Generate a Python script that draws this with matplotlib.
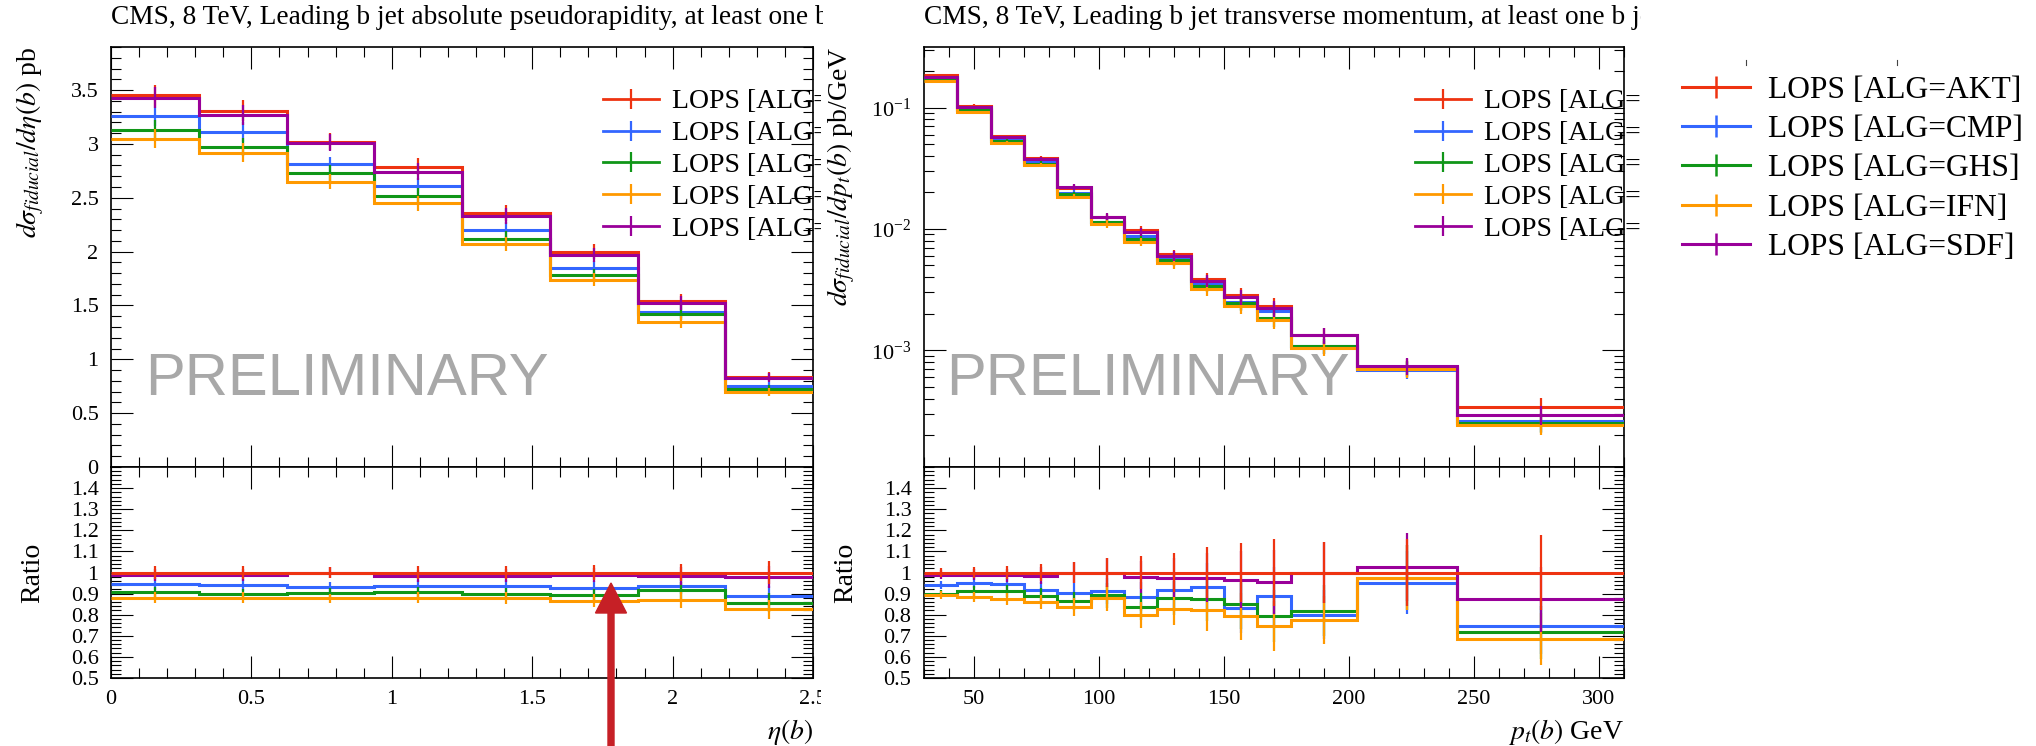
import numpy as np
import matplotlib.pyplot as plt
from matplotlib.lines import Line2D
from matplotlib.patches import FancyArrow
from matplotlib.transforms import Bbox, TransformedBbox
from matplotlib.ticker import MultipleLocator, FixedLocator, FixedFormatter, LogLocator, NullFormatter

plt.rcParams['font.family'] = ['Liberation Serif', 'DejaVu Serif']
plt.rcParams['mathtext.fontset'] = 'stix'

labels = ["LOPS [ALG=AKT]", "LOPS [ALG=CMP]", "LOPS [ALG=GHS]", "LOPS [ALG=IFN]", "LOPS [ALG=SDF]"]
colors = ["#ee3311", "#3366ff", "#109618", "#ff9900", "#990099"]

# leading b jet |eta|
eta_edges = [0, 0.3125, 0.625, 0.9375, 1.25, 1.5625, 1.875, 2.1875, 2.5]
eta_akt = [3.45, 3.31, 3.02, 2.79, 2.36, 2.00, 1.54, 0.84]
eta_cmp = [3.26, 3.11, 2.81, 2.61, 2.20, 1.85, 1.44, 0.75]
eta_ghs = [3.13, 2.97, 2.73, 2.52, 2.12, 1.78, 1.42, 0.72]
eta_ifn = [3.05, 2.92, 2.65, 2.45, 2.07, 1.74, 1.35, 0.70]
eta_sdf = [3.43, 3.27, 3.01, 2.74, 2.33, 1.97, 1.52, 0.83]
eta_relerr = [0.029, 0.029, 0.026, 0.029, 0.032, 0.034, 0.042, 0.053]
eta_r_akt = [1, 1, 1, 1, 1, 1, 1, 1]
eta_r_cmp = [0.945, 0.94, 0.933, 0.936, 0.936, 0.926, 0.937, 0.888]
eta_r_ghs = [0.907, 0.897, 0.905, 0.907, 0.897, 0.891, 0.915, 0.856]
eta_r_ifn = [0.88, 0.88, 0.877, 0.88, 0.88, 0.867, 0.869, 0.825]
eta_r_sdf = [0.99, 0.99, 1.0, 0.985, 0.985, 0.987, 0.984, 0.978]
eta_ticks = [0, 0.5, 1, 1.5, 2, 2.5]
eta_ticklabels = ['0', '0.5', '1', '1.5', '2', '2.5']
eta_yticks = [0, 0.5, 1, 1.5, 2, 2.5, 3, 3.5]
eta_yticklabels = ['0', '0.5', '1', '1.5', '2', '2.5', '3', '3.5']

# leading b jet pt
pt_edges = [30, 43.3, 56.7, 70, 83.3, 96.7, 110, 123.3, 136.7, 150, 163.3, 176.7, 203.3, 243.3, 310]
pt_akt = [0.185, 0.104, 0.058, 0.0382, 0.0219, 0.0125, 0.00976, 0.00618, 0.00387, 0.00284, 0.00231, 0.00133, 0.000725, 0.000341]
pt_cmp = [0.175, 0.098, 0.055, 0.0357, 0.0199, 0.0115, 0.00875, 0.0057, 0.00357, 0.0025, 0.0021, 0.00109, 0.00069, 0.00026]
pt_ghs = [0.17, 0.095, 0.0535, 0.0346, 0.0193, 0.0113, 0.0083, 0.0055, 0.0034, 0.00243, 0.00185, 0.00108, 0.00071, 0.000251]
pt_ifn = [0.165, 0.092, 0.0515, 0.0337, 0.0185, 0.011, 0.0078, 0.0052, 0.0032, 0.0023, 0.00177, 0.00104, 0.0007, 0.000242]
pt_sdf = [0.18, 0.101, 0.057, 0.0377, 0.0222, 0.01265, 0.0095, 0.006, 0.00375, 0.00277, 0.00222, 0.00133, 0.00074, 0.000294]
pt_relerr = [0.02, 0.026, 0.032, 0.04, 0.05, 0.067, 0.077, 0.093, 0.12, 0.14, 0.157, 0.146, 0.157, 0.178]
pt_r_akt = [1, 1, 1, 1, 1, 1, 1, 1, 1, 1, 1, 1, 1, 1]
pt_r_cmp = [0.94, 0.952, 0.945, 0.917, 0.905, 0.912, 0.885, 0.917, 0.933, 0.832, 0.888, 0.80, 0.952, 0.748]
pt_r_ghs = [0.90, 0.912, 0.912, 0.89, 0.865, 0.891, 0.837, 0.88, 0.875, 0.849, 0.793, 0.819, 0.976, 0.716]
pt_r_ifn = [0.893, 0.885, 0.875, 0.86, 0.837, 0.878, 0.80, 0.829, 0.82, 0.793, 0.747, 0.776, 0.976, 0.684]
pt_r_sdf = [0.99, 0.99, 0.987, 0.985, 1.0, 1.0, 0.98, 0.976, 0.976, 0.965, 0.955, 1.0, 1.025, 0.873]

ratio_ticks = [0.5, 0.6, 0.7, 0.8, 0.9, 1.0, 1.1, 1.2, 1.3, 1.4]
ratio_ticklabels = ['0.5', '0.6', '0.7', '0.8', '0.9', '1', '1.1', '1.2', '1.3', '1.4']

W, H = 2036, 746
fig = plt.figure(figsize=(W / 100, H / 100), dpi=100)


def rect(x0, y0, x1, y1):
    return [x0 / W, 1 - y1 / H, (x1 - x0) / W, (y1 - y0) / H]


def rivet_ticks(ax):
    ax.tick_params(which='both', direction='in', top=True, right=True, width=0.8, labelsize=16)
    ax.tick_params(which='major', length=16, pad=9)
    ax.tick_params(which='minor', length=7.5)
    for s in ax.spines.values():
        s.set_linewidth(1.2)


def clip_at(artist, xpix):
    artist.set_clip_box(TransformedBbox(Bbox([[0, 0], [xpix / W, 1]]), fig.transFigure))
    artist.set_clip_on(True)


ax1 = fig.add_axes(rect(111, 47, 813, 467))
ax1r = fig.add_axes(rect(111, 467, 813, 678), sharex=ax1)
ax2 = fig.add_axes(rect(924, 47, 1624, 467))
ax2r = fig.add_axes(rect(924, 467, 1624, 678), sharex=ax2)

eta_c = (np.array(eta_edges[:-1]) + np.array(eta_edges[1:])) / 2
pt_c = (np.array(pt_edges[:-1]) + np.array(pt_edges[1:])) / 2

eta_main = [eta_akt, eta_cmp, eta_ghs, eta_ifn, eta_sdf]
eta_ratio = [eta_r_akt, eta_r_cmp, eta_r_ghs, eta_r_ifn, eta_r_sdf]
pt_main = [pt_akt, pt_cmp, pt_ghs, pt_ifn, pt_sdf]
pt_ratio = [pt_r_akt, pt_r_cmp, pt_r_ghs, pt_r_ifn, pt_r_sdf]

for ax, axr, edges, cen, main, ratio, rel in [(ax1, ax1r, eta_edges, eta_c, eta_main, eta_ratio, eta_relerr),
                                               (ax2, ax2r, pt_edges, pt_c, pt_main, pt_ratio, pt_relerr)]:
    rel = np.array(rel)
    for i, (v, c) in enumerate(zip(main, colors)):
        v = np.array(v)
        ax.stairs(v, edges, baseline=None, color=c, lw=2.2, zorder=3 + i)
        ax.errorbar(cen, v, yerr=v * rel, fmt='none', ecolor=c, elinewidth=1.6, capsize=0, zorder=3 + i)
    # reference (AKT) drawn last in the ratio
    for k, i in enumerate([1, 2, 3, 4, 0]):
        r = np.array(ratio[i])
        axr.stairs(r, edges, baseline=None, color=colors[i], lw=2.2, zorder=3 + k)
        axr.errorbar(cen, r, yerr=r * rel, fmt='none', ecolor=colors[i], elinewidth=1.6, capsize=0, zorder=3 + k)

# left panel axes
ax1.set_xlim(0, 2.5)
ax1.set_ylim(0, 3.9)
ax1.xaxis.set_major_locator(FixedLocator(eta_ticks))
ax1.xaxis.set_major_formatter(FixedFormatter(eta_ticklabels))
ax1.xaxis.set_minor_locator(MultipleLocator(0.1))
ax1.yaxis.set_major_locator(FixedLocator(eta_yticks))
ax1.yaxis.set_major_formatter(FixedFormatter(eta_yticklabels))
ax1.yaxis.set_minor_locator(MultipleLocator(0.1))

# right panel axes
ax2.set_xlim(30, 310)
ax2.set_yscale('log')
ax2.set_ylim(1.09e-4, 0.316)
ax2.xaxis.set_major_locator(MultipleLocator(50))
ax2.xaxis.set_minor_locator(MultipleLocator(10))
ax2.yaxis.set_major_locator(LogLocator(base=10))
ax2.yaxis.set_minor_locator(LogLocator(base=10, subs=np.arange(2, 10)))
ax2.yaxis.set_minor_formatter(NullFormatter())

for axr in [ax1r, ax2r]:
    axr.set_ylim(0.5, 1.5)
    axr.yaxis.set_major_locator(FixedLocator(ratio_ticks))
    axr.yaxis.set_major_formatter(FixedFormatter(ratio_ticklabels))
    axr.yaxis.set_minor_locator(MultipleLocator(0.02))
    axr.set_ylabel('Ratio', fontsize=20)
    axr.yaxis.set_label_coords(-66 / 702, 0.5)

for ax in [ax1, ax1r, ax2, ax2r]:
    rivet_ticks(ax)
ax1.tick_params(labelbottom=False)
ax2.tick_params(labelbottom=False)

ax1.set_ylabel(r'$d\sigma_{fiducial}/d\eta(b)$ pb', fontsize=20, loc='top')
ax1.yaxis.set_label_coords(-65 / 702, 1.0)
ax2.set_ylabel(r'$d\sigma_{fiducial}/dp_t(b)$ pb/GeV', fontsize=20, loc='top')
ax2.yaxis.set_label_coords(-67 / 700, 1.0)

ax1r.set_xlabel(r'$\eta(b)$', fontsize=20, loc='right')
ax1r.xaxis.set_label_coords(1.0, -39 / 211)
ax2r.set_xlabel(r'$p_t(b)$ GeV', fontsize=20, loc='right')
ax2r.xaxis.set_label_coords(1.0, -39 / 211)

for tick in ax1r.xaxis.get_major_ticks():
    clip_at(tick.label1, 821)

ax1.text(34 / 702, 72 / 420, 'PRELIMINARY', transform=ax1.transAxes, fontsize=43,
         family='Liberation Sans', color='#a8a8a8', va='baseline', zorder=1)
ax2.text(22 / 700, 72 / 420, 'PRELIMINARY', transform=ax2.transAxes, fontsize=43,
         family='Liberation Sans', color='#a8a8a8', va='baseline', zorder=1)

t1 = fig.text(111 / W, 1 - 18 / H, "CMS, 8 TeV, Leading b jet absolute pseudorapidity, at least one b jet",
              fontsize=19.7, va='center', ha='left')
clip_at(t1, 823)
t2 = fig.text(924 / W, 1 - 18 / H, "CMS, 8 TeV, Leading b jet transverse momentum, at least one b jet",
              fontsize=19.7, va='center', ha='left')
clip_at(t2, 1641)

# legends inside the panels
h_small = [Line2D([], [], color=c, lw=2, marker='|', markersize=14, markeredgewidth=1.6) for c in colors]
leg1 = ax1.legend(h_small, labels, loc='upper left', bbox_to_anchor=(603 / W, 1 - 89 / H),
                  bbox_transform=fig.transFigure, frameon=False, fontsize=20, handlelength=2.0,
                  handletextpad=0.47, labelspacing=0.23, borderpad=0, borderaxespad=0, numpoints=1)
for t in leg1.get_texts():
    clip_at(t, 821)
leg2 = ax2.legend(h_small, labels, loc='upper left', bbox_to_anchor=(1415 / W, 1 - 89 / H),
                  bbox_transform=fig.transFigure, frameon=False, fontsize=20, handlelength=2.0,
                  handletextpad=0.47, labelspacing=0.23, borderpad=0, borderaxespad=0, numpoints=1)
for t in leg2.get_texts():
    clip_at(t, 1641)

# separate legend on the right
h_big = [Line2D([], [], color=c, lw=2.2, marker='|', markersize=16, markeredgewidth=1.8) for c in colors]
fig.legend(h_big, labels, loc='upper left', bbox_to_anchor=(1682 / W, 1 - 76 / H),
           bbox_transform=fig.transFigure, frameon=False, fontsize=22.7, handlelength=2.16,
           handletextpad=0.57, labelspacing=0.32, borderpad=0, borderaxespad=0, numpoints=1)
for xm in [1746, 1897]:
    fig.add_artist(Line2D([xm / W, xm / W], [1 - 60 / H, 1 - 65 / H], color='#444444', lw=0.8))

# red arrow
fig.add_artist(FancyArrow(611 / W, 0, 0, (746 - 583) / H, width=6 / W, head_width=31 / W,
                          head_length=30 / H, length_includes_head=True, color='#c62026',
                          transform=fig.transFigure, zorder=20))

plt.savefig("out.png", dpi=100)
